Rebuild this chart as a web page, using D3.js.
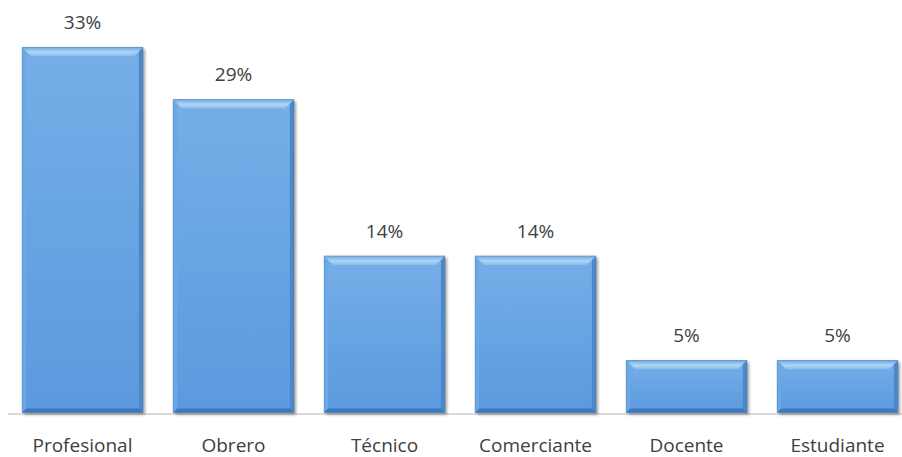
<!DOCTYPE html>
<html>
<head>
<meta charset="utf-8">
<script src="https://cdn.jsdelivr.net/npm/d3@7"></script>
<style>
  body { margin: 0; background: #fff; }
  text { font-family: "Open Sans", sans-serif; fill: #404040; }
</style>
</head>
<body>
<script>
// ocupación de los encuestados (share of respondents)
var categories = ["Profesional", "Obrero", "Técnico", "Comerciante", "Docente", "Estudiante"];
var values = [33.33, 28.57, 14.29, 14.29, 4.76, 4.76];

var width = 902, height = 457;
var svg = d3.select("body").append("svg")
    .attr("width", width)
    .attr("height", height);

var x = d3.scaleBand()
    .domain(categories)
    .range([7, 913])
    .paddingInner(0.2)
    .paddingOuter(0.1);

var y = d3.scaleLinear()
    .domain([0, 36])
    .range([412.5, 18]);

var defs = svg.append("defs");

var g1 = defs.append("linearGradient").attr("id", "face")
    .attr("x1", 0).attr("y1", 0).attr("x2", 0).attr("y2", 1);
g1.append("stop").attr("offset", "0%").attr("stop-color", "#76aee7");
g1.append("stop").attr("offset", "100%").attr("stop-color", "#5a9ade");

var g2 = defs.append("linearGradient").attr("id", "topBevel")
    .attr("x1", 0).attr("y1", 0).attr("x2", 0).attr("y2", 1);
g2.append("stop").attr("offset", "0%").attr("stop-color", "#6fa8e2");
g2.append("stop").attr("offset", "55%").attr("stop-color", "#b0d5f5");
g2.append("stop").attr("offset", "100%").attr("stop-color", "#86bcec");

var shadow = defs.append("filter").attr("id", "shadow")
    .attr("x", "-10%").attr("y", "-10%").attr("width", "130%").attr("height", "130%");
shadow.append("feGaussianBlur").attr("in", "SourceAlpha").attr("stdDeviation", 1.5);
shadow.append("feOffset").attr("dx", 1.5).attr("dy", 1.5).attr("result", "b");
shadow.append("feComponentTransfer").append("feFuncA").attr("type", "linear").attr("slope", 0.4);
var merge = shadow.append("feMerge");
merge.append("feMergeNode");
merge.append("feMergeNode").attr("in", "SourceGraphic");

// baseline
svg.append("line")
    .attr("x1", 8).attr("x2", width)
    .attr("y1", y(0) + 1.5).attr("y2", y(0) + 1.5)
    .attr("stroke", "#d9d9d9")
    .attr("stroke-width", 2);

var data = categories.map(function(c, i) { return { cat: c, v: values[i] }; });
var bt = 9, bs = 4;   // top bevel, side bevel

var bars = svg.selectAll("g.bar")
    .data(data)
    .enter().append("g")
    .attr("class", "bar");

bars.append("rect")
    .attr("x", function(d) { return x(d.cat); })
    .attr("y", function(d) { return y(d.v); })
    .attr("width", x.bandwidth())
    .attr("height", function(d) { return y(0) - y(d.v); })
    .attr("fill", "url(#face)")
    .attr("filter", "url(#shadow)");

function poly(pts) {
    return "M" + pts.map(function(p) { return p.join(","); }).join("L") + "Z";
}

bars.append("path")
    .attr("d", function(d) {
        var x0 = x(d.cat), t = y(d.v), b = y(0);
        return poly([[x0, t], [x0 + bs, t + bs], [x0 + bs, b - bs], [x0, b]]);
    })
    .attr("fill", "#6ca8e5");

bars.append("path")
    .attr("d", function(d) {
        var x1 = x(d.cat) + x.bandwidth(), t = y(d.v), b = y(0);
        return poly([[x1, t], [x1 - bs, t + bs], [x1 - bs, b - bs], [x1, b]]);
    })
    .attr("fill", "#4b87c9");

bars.append("path")
    .attr("d", function(d) {
        var x0 = x(d.cat), x1 = x0 + x.bandwidth(), b = y(0);
        return poly([[x0, b], [x0 + bs, b - bs], [x1 - bs, b - bs], [x1, b]]);
    })
    .attr("fill", "#3d78bd");

// top bevel
bars.append("path")
    .attr("d", function(d) {
        var x0 = x(d.cat), x1 = x0 + x.bandwidth(), t = y(d.v);
        return poly([[x0, t], [x1, t], [x1 - bt, t + bt], [x0 + bt, t + bt]]);
    })
    .attr("fill", "url(#topBevel)");

bars.append("rect")
    .attr("x", function(d) { return x(d.cat); })
    .attr("y", function(d) { return y(d.v); })
    .attr("width", x.bandwidth())
    .attr("height", function(d) { return y(0) - y(d.v); })
    .attr("fill", "none")
    .attr("stroke", "#3a6ea8")
    .attr("stroke-opacity", 0.45)
    .attr("stroke-width", 0.8);

// data labels
bars.append("text")
    .attr("x", function(d) { return x(d.cat) + x.bandwidth() / 2; })
    .attr("y", function(d) { return y(d.v) - 18; })
    .attr("text-anchor", "middle")
    .style("font-size", "19px")
    .text(function(d) { return Math.round(d.v) + "%"; });

// category axis labels
svg.selectAll("text.cat")
    .data(categories)
    .enter().append("text")
    .attr("class", "cat")
    .attr("x", function(d) { return x(d) + x.bandwidth() / 2; })
    .attr("y", 452)
    .attr("text-anchor", "middle")
    .style("font-size", "19px")
    .text(function(d) { return d; });
</script>
</body>
</html>
